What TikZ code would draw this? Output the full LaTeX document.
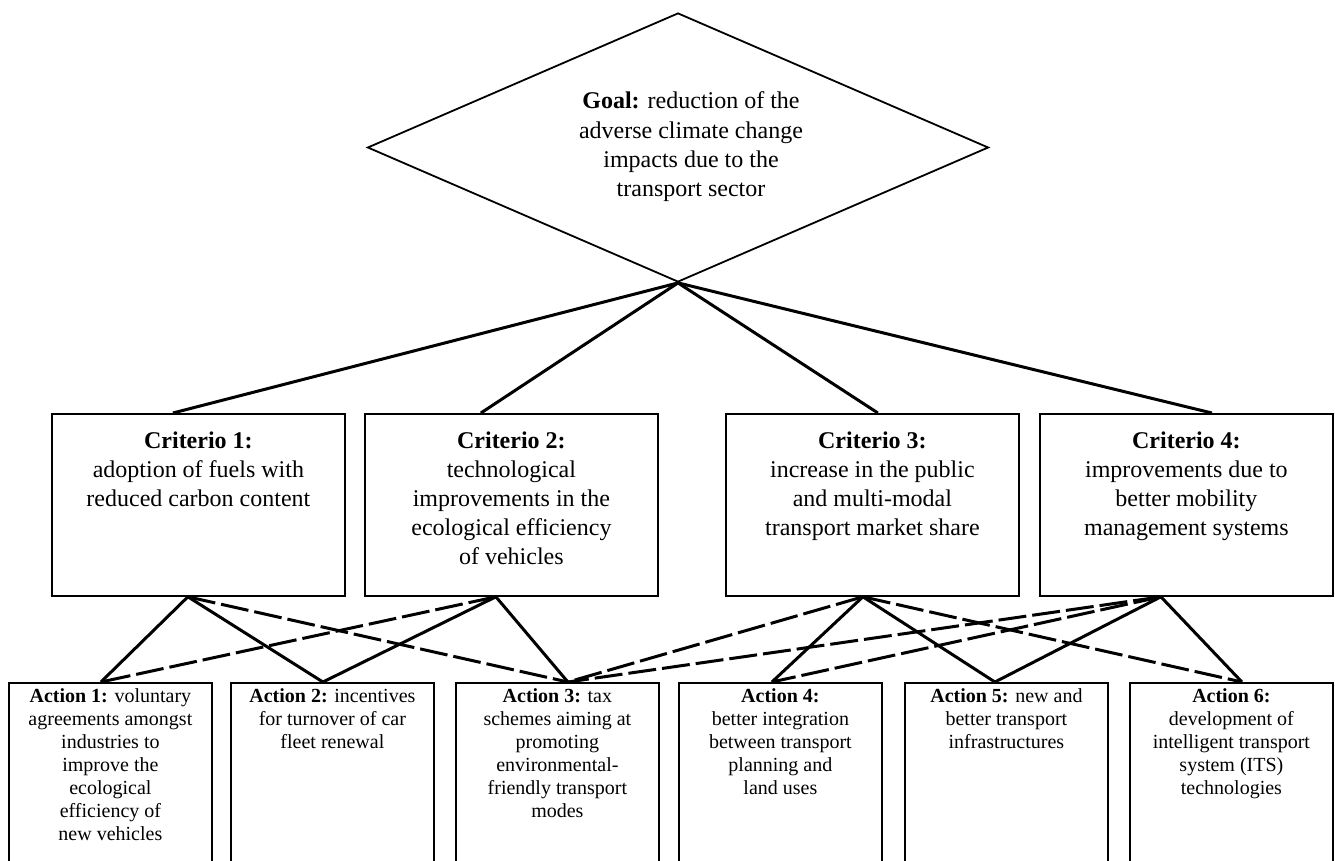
\documentclass[tikz,border=0pt]{standalone}
\usepackage{fontspec}
\setmainfont{Liberation Serif}
\usetikzlibrary{shapes.geometric,calc}
\newcommand\critbody[1]{\parbox[t][182pt][t]{293pt}{\centering\vspace*{14pt}\strut #1}}
\newcommand\actbody[1]{\parbox[t][190pt][t]{203pt}{\centering\vspace*{3pt}\strut #1}}
\begin{document}
\begin{tikzpicture}[x=1pt,y=-1pt,
  goalbox/.style={shape=diamond, draw, line width=1.8pt, minimum width=621pt, minimum height=269pt, inner sep=0pt, aspect=2.31},
  goaltext/.style={align=center, font=\fontsize{24}{29.3}\selectfont, inner sep=0pt},
  critbox/.style={draw, line width=1.8pt, anchor=north west, inner sep=0pt, font=\fontsize{24}{29}\selectfont},
  actbox/.style={draw, line width=1.8pt, anchor=north west, inner sep=0pt, font=\fontsize{20}{23}\selectfont},
  link/.style={line width=3pt},
  xlink/.style={line width=3pt, dash pattern=on 28pt off 6pt},
]
\useasboundingbox (0,0) rectangle (1335,861);
\clip (0,0) rectangle (1335,861);
\fill[white] (0,0) rectangle (1335,861);

% goal
\node[goalbox] (goal) at (678,147.5) {};
\node[goaltext] (goaltxt) at (691,147) {\textbf{Goal:} reduction of the\\adverse climate change\\impacts due to the\\transport sector};

% criteria
\node[critbox] (c1) at (51,413) {\critbody{\textbf{Criterio 1:}\\adoption of fuels with\\reduced carbon content}};
\node[critbox] (c2) at (364,413) {\critbody{\textbf{Criterio 2:}\\technological\\improvements in the\\ecological efficiency\\of vehicles}};
\node[critbox] (c3) at (725,413) {\critbody{\textbf{Criterio 3:}\\increase in the public\\and multi-modal\\transport market share}};
\node[critbox] (c4) at (1039,413) {\critbody{\textbf{Criterio 4:}\\improvements due to\\better mobility\\management systems}};

% actions
\node[actbox] (a1) at (8,682) {\actbody{\textbf{Action 1:} voluntary\\agreements amongst\\industries to\\improve the\\ecological\\efficiency of\\new vehicles}};
\node[actbox] (a2) at (230,682) {\actbody{\textbf{Action 2:} incentives\\for turnover of car\\fleet renewal}};
\node[actbox] (a3) at (455,682) {\actbody{\textbf{Action 3:} tax\\schemes aiming at\\promoting\\environmental-\\friendly transport\\modes}};
\node[actbox] (a4) at (678,682) {\actbody{\textbf{Action 4:}\\better integration\\between transport\\planning and\\land uses}};
\node[actbox] (a5) at (904,682) {\actbody{\textbf{Action 5:} new and\\better transport\\infrastructures}};
\node[actbox] (a6) at (1129,682) {\actbody{\textbf{Action 6:}\\development of\\intelligent transport\\system (ITS)\\technologies}};

% connection points
\coordinate (c1t) at ($(c1.north)+(-25.5,0)$);
\coordinate (c2t) at ($(c2.north)+(-30.5,0)$);
\coordinate (c3t) at ($(c3.north)+(5.5,0)$);
\coordinate (c4t) at ($(c4.north)+(25.5,0)$);
\coordinate (c1b) at ($(c1.south)+(-10.5,0)$);
\coordinate (c2b) at ($(c2.south)+(-15.5,0)$);
\coordinate (c3b) at ($(c3.south)+(-9.5,0)$);
\coordinate (c4b) at ($(c4.south)+(-25.5,0)$);
\coordinate (a1t) at ($(a1.north)+(-9.5,0)$);
\coordinate (a2t) at ($(a2.north)+(-9.5,0)$);
\coordinate (a3t) at ($(a3.north)+(10.5,0)$);
\coordinate (a4t) at ($(a4.north)+(-8.5,0)$);
\coordinate (a5t) at ($(a5.north)+(-11.5,0)$);
\coordinate (a6t) at ($(a6.north)+(10.5,0)$);

% goal to criteria
\draw[link] (goal.south) -- (c1t);
\draw[link] (goal.south) -- (c2t);
\draw[link] (goal.south) -- (c3t);
\draw[link] (goal.south) -- (c4t);

% criteria to actions
\draw[link] (c1b) -- (a1t);
\draw[link] (c1b) -- (a2t);
\draw[xlink] (c1b) -- (a3t);
\draw[xlink] (c2b) -- (a1t);
\draw[link] (c2b) -- (a2t);
\draw[link] (c2b) -- (a3t);
\draw[xlink] (c3b) -- (a3t);
\draw[link] (c3b) -- (a4t);
\draw[link] (c3b) -- (a5t);
\draw[xlink] (c3b) -- (a6t);
\draw[xlink] (c4b) -- (a3t);
\draw[xlink] (c4b) -- (a4t);
\draw[link] (c4b) -- (a5t);
\draw[link] (c4b) -- (a6t);
\end{tikzpicture}
\end{document}
